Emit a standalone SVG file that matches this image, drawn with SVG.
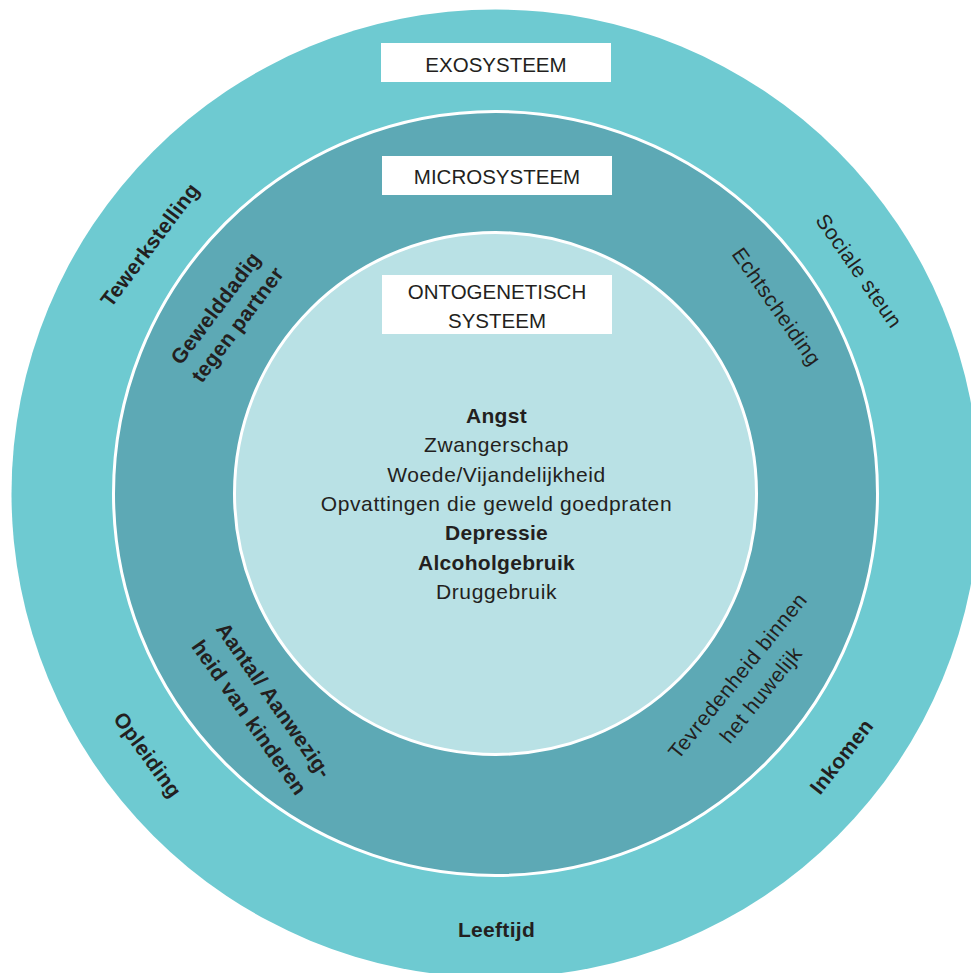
<svg xmlns="http://www.w3.org/2000/svg" width="971" height="973" viewBox="0 0 971 973">
<style>
text{font-family:"Liberation Sans",Arial,sans-serif;fill:#231f20;font-size:21px;text-anchor:middle}
.b{font-weight:bold;letter-spacing:0.3px}
.r{letter-spacing:0.6px}
.box{fill:#ffffff}
.lbl{font-size:20.5px;letter-spacing:0px}
</style>
<rect width="971" height="973" fill="#ffffff"/>
<g id="exosysteem">
<circle cx="495.5" cy="493.5" r="484" fill="#6ecad1"/>
</g>
<g id="microsysteem">
<circle cx="495.5" cy="493.5" r="382" fill="#5da9b5" stroke="#ffffff" stroke-width="3"/>
</g>
<g id="ontogenetisch">
<circle cx="495.5" cy="493.5" r="261" fill="#b9e1e5" stroke="#ffffff" stroke-width="3"/>
</g>
<g id="label-exo">
<rect class="box" x="381" y="43" width="230" height="39"/>
<text class="lbl" x="496" y="71.5">EXOSYSTEEM</text>
</g>
<g id="label-micro">
<rect class="box" x="382" y="156" width="230" height="39"/>
<text class="lbl" x="497" y="184">MICROSYSTEEM</text>
</g>
<g id="label-onto">
<rect class="box" x="382" y="275" width="230" height="59"/>
<text class="lbl" x="497" y="298.5">ONTOGENETISCH</text>
<text class="lbl" x="497" y="327.5">SYSTEEM</text>
</g>
<g id="center-factors">
<text class="b" x="496.5" y="423">Angst</text>
<text class="r" x="496.5" y="452.3">Zwangerschap</text>
<text class="r" x="496.5" y="481.6">Woede/Vijandelijkheid</text>
<text class="r" x="496.5" y="510.9">Opvattingen die geweld goedpraten</text>
<text class="b" x="496.5" y="540.2">Depressie</text>
<text class="b" x="496.5" y="569.5">Alcoholgebruik</text>
<text class="r" x="496.5" y="598.8">Druggebruik</text>
</g>
<g id="tewerkstelling" transform="translate(150,245) rotate(-53)">
<text class="b" x="0" y="7">Tewerkstelling</text>
</g>
<g id="gewelddadig" transform="translate(226.7,316.5) rotate(-53)">
<text class="b" x="0" y="-6.7">Gewelddadig</text>
<text class="b" x="0" y="20.7">tegen partner</text>
</g>
<g id="sociale-steun" transform="translate(859,271) rotate(55)">
<text class="r" x="0" y="7">Sociale steun</text>
</g>
<g id="echtscheiding" transform="translate(776.5,306.7) rotate(55)">
<text class="r" x="0" y="7">Echtscheiding</text>
</g>
<g id="kinderen" transform="translate(261.5,709) rotate(55)">
<text class="b" x="0" y="-8">Aantal/ Aanwezig-</text>
<text class="b" x="0" y="22">heid van kinderen</text>
</g>
<g id="opleiding" transform="translate(147.5,755) rotate(54)">
<text class="b" x="0" y="7">Opleiding</text>
</g>
<g id="tevredenheid" transform="translate(749.4,685.4) rotate(-51)">
<text class="r" x="0" y="-8">Tevredenheid binnen</text>
<text class="r" x="0" y="22">het huwelijk</text>
</g>
<g id="inkomen" transform="translate(841.7,756.7) rotate(-52)">
<text class="b" x="0" y="7">Inkomen</text>
</g>
<g id="leeftijd">
<text class="b" x="496.5" y="936.7">Leeftijd</text>
</g>
<g id="connectors"/>
</svg>
